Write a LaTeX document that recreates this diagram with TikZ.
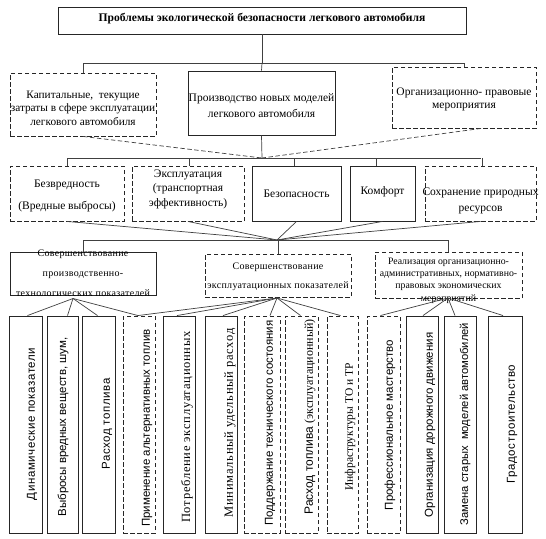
\documentclass[tikz,border=0pt]{standalone}
\usepackage{fontspec}
\setmainfont{Liberation Serif}
\newfontfamily\sansf{Liberation Sans}
\newfontfamily\sansw{Liberation Sans}[LetterSpace=5]
\newfontfamily\serifw{Liberation Serif}[LetterSpace=6]
\newfontfamily\serifs{Liberation Serif}[LetterSpace=3]
\begin{document}
\begin{tikzpicture}[x=1pt,y=-1pt,
  bx/.style={draw=black!85, line width=0.9pt, inner sep=0pt},
  dbx/.style={bx, dash pattern=on 4.5pt off 2.5pt},
  txt/.style={inner sep=0pt, align=center, font=\fontsize{11.5}{14}\selectfont},
  sm/.style={inner sep=0pt, align=center, font=\serifs\fontsize{10}{20}\selectfont},
  vs/.style={inner sep=0pt, rotate=90, font=\sansf\fontsize{11.5}{13}\selectfont},
  vsw/.style={inner sep=0pt, rotate=90, font=\sansw\fontsize{11.5}{13}\selectfont},
  vr/.style={inner sep=0pt, rotate=90, font=\fontsize{12}{14}\selectfont},
  vrw/.style={inner sep=0pt, rotate=90, font=\serifw\fontsize{12.5}{14}\selectfont},
  conn/.style={draw=black!75, line width=0.7pt},
  dconn/.style={conn, dash pattern=on 4.5pt off 2.5pt},
  vb/.style={bx, minimum height=217pt},
  vdb/.style={dbx, minimum height=217pt}]
\useasboundingbox[fill=white] (0,0) rectangle (546,538);

% level 0
\node[bx, minimum width=408pt, minimum height=27pt] (title) at (262,20.5) {};
\node[txt, font=\bfseries\fontsize{11.6}{13}\selectfont] (titleT) at (262,19) {Проблемы экологической безопасности легкового автомобиля};

% level 1
\node[dbx, minimum width=146pt, minimum height=63pt] (cap) at (83,104.5) {};
\node[txt, font=\fontsize{11.3}{13.5}\selectfont] (capT) at (83,108) {Капитальные,\ \ текущие\\затраты в сфере эксплуатации\\легкового автомобиля};
\node[bx, minimum width=147pt, minimum height=64pt] (prod) at (261.5,103) {};
\node[txt, font=\fontsize{11.5}{16}\selectfont] (prodT) at (261.5,106) {Производство новых моделей\\легкового автомобиля};
\node[dbx, minimum width=144pt, minimum height=61pt] (org) at (464,97.5) {};
\node[txt, font=\fontsize{11.5}{13}\selectfont] (orgT) at (464,99.5) {Организационно-\ правовые\\мероприятия};

\coordinate (j1) at (262,63);
\draw[conn] (title.south) -- (j1);
\draw[conn] (cap.north |- j1) -- (org.north |- j1);
\draw[conn] (cap.north |- j1) -- (cap.north);
\draw[conn] (org.north |- j1) -- (org.north);
\draw[conn] (j1) -- (prod.north);

% level 2
\node[dbx, minimum width=114pt, minimum height=55pt] (bez) at (67,193.5) {};
\node[txt, font=\fontsize{11.5}{22}\selectfont] (bezT) at (67,196) {Безвредность\\(Вредные выбросы)};
\node[dbx, minimum width=112pt, minimum height=55pt] (expl) at (188,193.5) {};
\node[txt, font=\fontsize{11.5}{14.5}\selectfont] (explT) at (188,189) {Эксплуатация\\(транспортная\\эффективность)};
\node[bx, minimum width=89pt, minimum height=55pt] (safe) at (296.5,193.5) {};
\node[txt] (safeT) at (296.5,194) {Безопасность};
\node[bx, minimum width=65pt, minimum height=55pt] (comf) at (382.5,193.5) {};
\node[txt] (comfT) at (382.5,192) {Комфорт};
\node[dbx, minimum width=111pt, minimum height=55pt] (nat) at (480.5,193.5) {};
\node[txt, font=\fontsize{11.5}{16}\selectfont] (natT) at (480.5,201) {Сохранение природных\\ресурсов};

\coordinate (j2) at (262,158);
\draw[dconn] (cap.south) -- (j2);
\draw[dconn] ([xshift=17pt]org.south) -- (j2);
\draw[conn] (prod.south) -- (j2);
\draw[conn] (bez.north |- j2) -- (nat.north |- j2);
\foreach \n/\dx in {bez/0,expl/1,safe/-2.5,comf/-6.5,nat/1.5}
  \draw[conn] ([xshift=\dx pt]\n.north |- j2) -- ([xshift=\dx pt]\n.north);

% level 3
\node[bx, minimum width=146pt, minimum height=43pt] (pt) at (83,273.5) {};
\node[sm] (ptT) at (83,273.5) {Совершенствование\\производственно-\\технологических показателей};
\node[dbx, minimum width=146pt, minimum height=43pt] (ep) at (278,275.5) {};
\node[sm, font=\serifs\fontsize{10}{19.5}\selectfont] (epT) at (278,277) {Совершенствование\\эксплуатационных показателей};
\node[dbx, minimum width=147pt, minimum height=46pt] (rm) at (448.5,275) {};
\node[sm, font=\fontsize{9.8}{12.3}\selectfont] (rmT) at (448.5,280.5) {Реализация организационно-\\административных, нормативно-\\правовых экономических\\мероприятий};

\coordinate (j3) at (277,240);
\foreach \n in {bez,expl,safe,comf,nat}
  \draw[conn] (\n.south) -- (j3);
\draw[conn] (pt.north |- j3) -- (rm.north |- j3);
\foreach \n in {pt,ep,rm}
  \draw[conn] (\n.north |- j3) -- (\n.north);

% level 4
\node[vb,  minimum width=33pt] (v1) at (25.5,424.5) {};
\node[vb,  minimum width=31pt] (v2) at (62.5,424.5) {};
\node[vb,  minimum width=33pt] (v3) at (98.5,424.5) {};
\node[vdb, minimum width=32pt] (v4) at (139,424.5) {};
\node[vb,  minimum width=32pt] (v5) at (179,424.5) {};
\node[vb,  minimum width=32pt] (v6) at (221,424.5) {};
\node[vdb, minimum width=36pt] (v7) at (262,424.5) {};
\node[vdb, minimum width=33pt] (v8) at (301.5,424.5) {};
\node[vdb, minimum width=31pt] (v9) at (342.5,424.5) {};
\node[vdb, minimum width=33pt] (v10) at (383.5,424.5) {};
\node[vb,  minimum width=32pt] (v11) at (422,424.5) {};
\node[vb,  minimum width=32pt] (v12) at (460,424.5) {};
\node[vb,  minimum width=34pt] (v13) at (505,424.5) {};

\node[vsw] (t1) at (32,424) {Динамические показатели};
\node[vs] (t2) at (63,427) {Выбросы вредных веществ, шум,};
\node[vsw] (t3) at (107,424) {Расход топлива};
\node[vs] (t4) at (147,428) {Применение альтернативных топлив};
\node[vrw] (t5) at (187,427) {Потребление эксплуатационных};
\node[vrw] (t6) at (230,423) {Минимальный удельный расход};
\node[vs] (t7) at (270,423) {Поддержание технического состояния};
\node[vr] (t8) at (310,417) {{\sansf Расход топлива} (эксплуатационный)};
\node[vr, font=\fontsize{11.5}{14}\selectfont] (t9) at (350,427) {Инфраструктуры ТО и ТР};
\node[vs] (t10) at (390,425) {Профессиональное мастерство};
\node[vs] (t11) at (430,425) {Организация дорожного движения};
\node[vs, font=\sansf\fontsize{11.2}{13}\selectfont] (t12) at (465,424) {Замена старых\ \ моделей автомобилей};
\node[vsw] (t13) at (512,424) {Градостроительство};

\coordinate (j4a) at (73,298.5);
\coordinate (j4b) at (277,298);
\coordinate (j4c) at (448,298);
\foreach \n/\dx in {v1/2,v2/5,v3/-1,v4/-1}
  \draw[conn] (j4a) -- ([xshift=\dx pt]\n.north);
\foreach \n/\dx in {v4/-1,v5/-2,v6/2,v7/8,v8/-1,v9/-2}
  \draw[conn] (j4b) -- ([xshift=\dx pt]\n.north);
\foreach \n/\dx in {v10/-3,v11/1,v12/-5,v13/-2}
  \draw[conn] (j4c) -- ([xshift=\dx pt]\n.north);
\end{tikzpicture}
\end{document}
